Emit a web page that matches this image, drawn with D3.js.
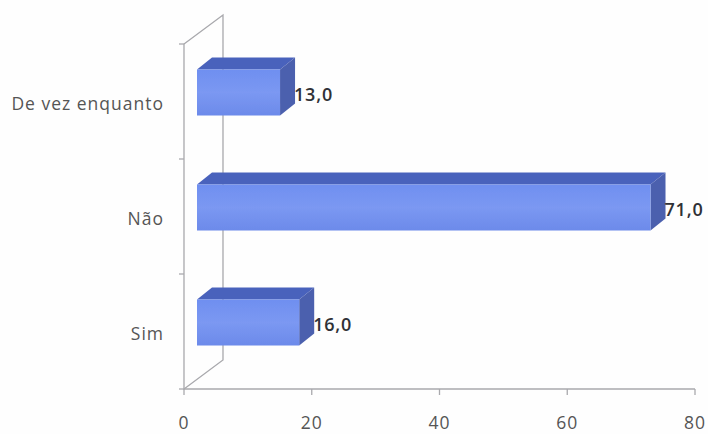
<!DOCTYPE html>
<html><head><meta charset="utf-8">
<script src="https://cdn.jsdelivr.net/npm/d3@7"></script>
<style>html,body{margin:0;background:#fefefe}svg{display:block}text{font-family:"Open Sans",Lato,sans-serif}</style>
</head><body><svg id="c" width="708" height="434"></svg>
<script>
const categories = ["De vez enquanto", "Não", "Sim"];
const values = [13.0, 71.0, 16.0];
const xTicks = [0, 20, 40, 60, 80];
const labels = ["13,0", "71,0", "16,0"];

const svg = d3.select("#c");
const W = {x0:184, x1:695, y0:44, y1:389, dx:39, dy:-29};
const x = d3.scaleLinear().domain([0,80]).range([W.x0,W.x1]);
const y = d3.scaleBand().domain(categories).range([W.y0,W.y1]);
const barH = 46, barOff = 25.5, depthX = 15, depthY = -12, shift = 13;

const defs = svg.append("defs");
const g = defs.append("linearGradient").attr("id","front").attr("x1",0).attr("y1",0).attr("x2",0).attr("y2",1);
g.append("stop").attr("offset",0).attr("stop-color","#6f8ff0");
g.append("stop").attr("offset",0.5).attr("stop-color","#7b98f2");
g.append("stop").attr("offset",1).attr("stop-color","#6c8aea");
defs.append("filter").attr("id","soft").append("feGaussianBlur").attr("stdDeviation",0.6);

const line = "#a9a9ad";
const wall = svg.append("g").attr("filter","url(#soft)").attr("fill","none").attr("stroke",line).attr("stroke-width",1.3);
wall.append("path").attr("d",`M${W.x0},${W.y0}L${W.x0},${W.y1}L${W.x1},${W.y1}`);
wall.append("path").attr("d",`M${W.x0},${W.y0}L${W.x0+W.dx},${W.y0+W.dy}L${W.x0+W.dx},${W.y1+W.dy}L${W.x0},${W.y1}`);
const yTicks = [...categories.map(c=>y(c)), W.y1];
wall.selectAll(".yt").data(yTicks).join("line").attr("x1",W.x0-5).attr("x2",W.x0).attr("y1",d=>d).attr("y2",d=>d);
wall.selectAll(".xt").data(xTicks).join("line").attr("x1",d=>x(d)).attr("x2",d=>x(d)).attr("y1",W.y1).attr("y2",W.y1+6);

const bars = svg.append("g").attr("filter","url(#soft)").selectAll("g").data(values).join("g");
const bx0 = x(0)+shift;
const bx1 = d=>bx0+(x(d)-x(0));
const by = (d,i)=>y(categories[i])+barOff;
bars.append("path").attr("fill","#4a62bc").attr("d",(d,i)=>`M${bx0},${by(d,i)}l${depthX},${depthY}L${bx1(d)+depthX},${by(d,i)+depthY}L${bx1(d)},${by(d,i)}Z`);
bars.append("path").attr("fill","#4b60ae").attr("d",(d,i)=>`M${bx1(d)},${by(d,i)}l${depthX},${depthY}v${barH}l${-depthX},${-depthY}Z`);
bars.append("rect").attr("x",bx0).attr("y",by).attr("width",d=>bx1(d)-bx0).attr("height",barH).attr("fill","url(#front)");

svg.selectAll(".lab").data(labels).join("text").attr("class","lab")
  .attr("x",(d,i)=>bx1(values[i])+depthX-1).attr("y",(d,i)=>by(d,i)+31)
  .attr("font-size",18).attr("font-weight",600).attr("letter-spacing",0.8).attr("fill","#2f3136").text(d=>d);
svg.selectAll(".cat").data(categories).join("text").attr("class","cat")
  .attr("x",164).attr("y",d=>y(d)+66).attr("text-anchor","end")
  .attr("font-size",17.5).attr("letter-spacing",1).attr("fill","#555").text(d=>d);
svg.selectAll(".xl").data(xTicks).join("text").attr("class","xl")
  .attr("x",d=>x(d)).attr("y",429).attr("text-anchor","middle")
  .attr("font-size",17.5).attr("letter-spacing",1).attr("fill","#555").text(d=>d);
</script></body></html>
